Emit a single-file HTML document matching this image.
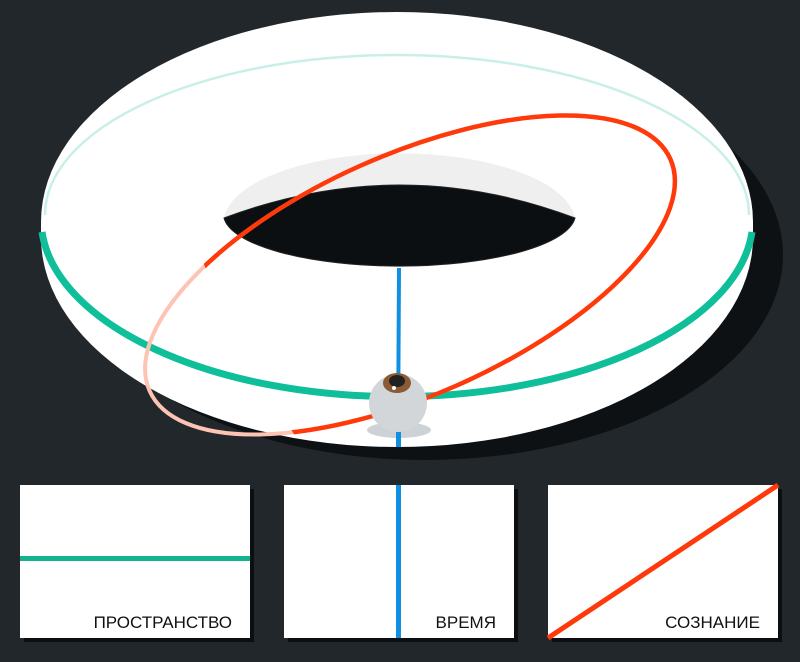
<!DOCTYPE html>
<html><head><meta charset="utf-8"><style>
html,body{margin:0;padding:0;background:#22272b;}
svg{display:block}
text{font-family:"Liberation Sans",sans-serif;font-size:17px;fill:#111}
</style></head><body>
<svg width="800" height="662" viewBox="0 0 800 662" xmlns="http://www.w3.org/2000/svg">
<rect width="800" height="662" fill="#22272b"/>
<defs>
<clipPath id="front"><polygon points="226,0 800,0 800,662 245,662 245,440 226,220"/></clipPath>
</defs>
<ellipse cx="425" cy="255" rx="358" ry="205" fill="#0d1114"/>
<ellipse cx="397" cy="237" rx="356" ry="210" fill="#ffffff"/>
<rect x="41" y="222" width="712" height="15" fill="#fff"/>
<ellipse cx="397" cy="222" rx="356" ry="210" fill="#ffffff"/>
<path d="M45,215 A352,160 0 0 1 749,215" fill="none" stroke="#c9efe9" stroke-width="2.5"/>
<path d="M224,218 A176,70 0 0 1 575,218 Z" fill="#efefef"/>
<path d="M224,218 Q400,152 575,218 A176,52 0 0 1 224,218 Z" fill="#0b0f12" stroke="#222" stroke-width="1"/>
<path d="M42,232 A356,178 0 0 0 752,232" fill="none" stroke="#0fbf99" stroke-width="7"/>
<ellipse cx="410" cy="275" rx="285" ry="120" transform="rotate(-24 410 275)" fill="none" stroke="#fec3b3" stroke-width="4"/>
<ellipse cx="410" cy="275" rx="285" ry="120" transform="rotate(-24 410 275)" fill="none" stroke="#ff3a0a" stroke-width="4.5" clip-path="url(#front)"/>
<path d="M397,268 L401,268 L400,447 L396,447 Z" fill="#118fe0"/>
<ellipse cx="399" cy="430" rx="32" ry="8" fill="#cdd2d6"/>
<rect x="396" y="425" width="5" height="22" fill="#118fe0"/>
<circle cx="398" cy="403" r="29" fill="#d3d6d9"/>
<ellipse cx="397" cy="383" rx="14" ry="10" fill="#8c5a35"/>
<ellipse cx="397" cy="381" rx="8" ry="6" fill="#222"/>
<circle cx="394" cy="388" r="2" fill="#fff"/>
<rect x="24" y="489" width="230" height="153" fill="#0c0f12"/>
<rect x="20" y="485" width="230" height="153" fill="#fff"/>
<rect x="20" y="556" width="230" height="5" fill="#13b38f"/>
<text x="232" y="628" text-anchor="end">ПРОСТРАНСТВО</text>
<rect x="288" y="489" width="230" height="153" fill="#0c0f12"/>
<rect x="284" y="485" width="230" height="153" fill="#fff"/>
<rect x="396" y="485" width="5" height="153" fill="#118fe0"/>
<text x="496" y="628" text-anchor="end">ВРЕМЯ</text>
<rect x="552" y="489" width="230" height="153" fill="#0c0f12"/>
<rect x="548" y="485" width="230" height="153" fill="#fff"/>
<line x1="548" y1="638" x2="778" y2="485" stroke="#ff3a0a" stroke-width="5"/>
<text x="760" y="628" text-anchor="end">СОЗНАНИЕ</text>
</svg>
</body></html>
